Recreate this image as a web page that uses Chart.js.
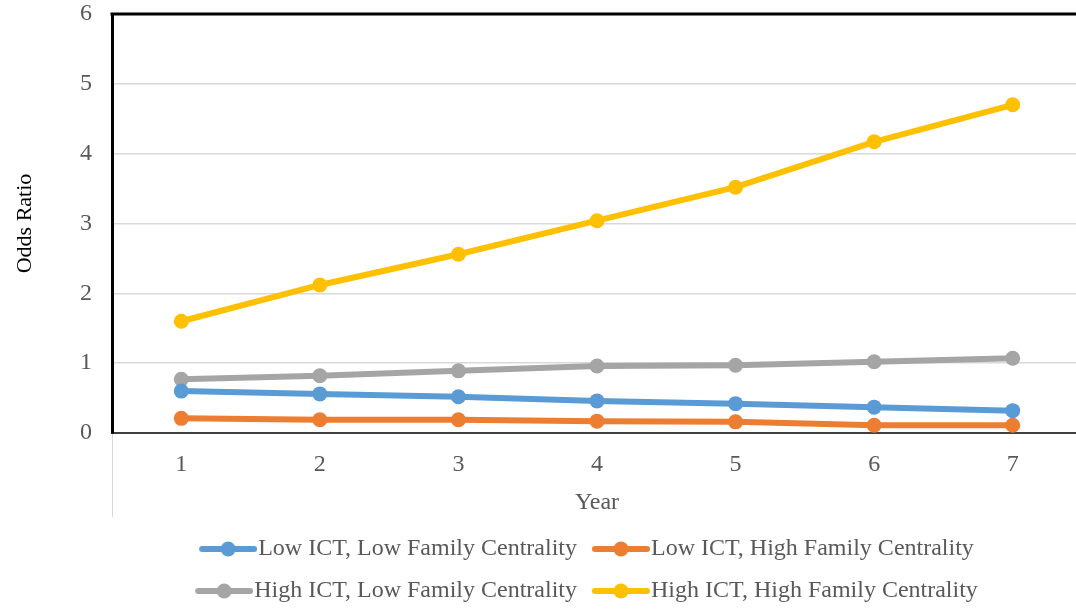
<!DOCTYPE html>
<html lang="en">
<head>
    <meta charset="UTF-8">
    <title>Odds Ratio by Year</title>
    <style>
        html, body {
            margin: 0;
            padding: 0;
            background: #ffffff;
            overflow: hidden;
        }

        .chart-wrap {
            width: 1100px;
            height: 613px;
        }
    </style>
</head>
<body>
<div class="chart-wrap">
    <canvas id="oddsChart"></canvas>
</div>

<script src="https://cdn.jsdelivr.net/npm/chart.js"></script>
<script>
    const years = ['1', '2', '3', '4', '5', '6', '7'];
    const lowIctLowFam = [0.60, 0.56, 0.52, 0.46, 0.42, 0.37, 0.32];
    const lowIctHighFam = [0.21, 0.19, 0.19, 0.17, 0.16, 0.11, 0.11];
    const highIctLowFam = [0.77, 0.82, 0.89, 0.96, 0.97, 1.02, 1.07];
    const highIctHighFam = [1.60, 2.12, 2.56, 3.04, 3.52, 4.17, 4.70];
    const seriesNames = [
        'Low ICT, Low Family Centrality',
        'Low ICT, High Family Centrality',
        'High ICT, Low Family Centrality',
        'High ICT, High Family Centrality'
    ];
    const seriesColors = ['#5B9BD5', '#ED7D31', '#A5A5A5', '#FFC000'];

    const fontFamily = '"Liberation Serif", "Times New Roman", serif';
    const fontSize = 24;
    const textGray = '#595959';

    // legend marker: short line with a dot in the middle
    // (drawn on a wider transparent canvas so the text sits right after it)
    function legendMarker(color) {
        const c = document.createElement('canvas');
        c.width = 66;
        c.height = 18;
        const ctx = c.getContext('2d');
        ctx.strokeStyle = color;
        ctx.lineWidth = 6;
        ctx.lineCap = 'round';
        ctx.beginPath();
        ctx.moveTo(11, 9);
        ctx.lineTo(63, 9);
        ctx.stroke();
        ctx.fillStyle = color;
        ctx.beginPath();
        ctx.arc(37, 9, 7.5, 0, Math.PI * 2);
        ctx.fill();
        return c;
    }

    // top frame line, the short gray line under the left end of the x axis,
    // and a small nudge of the legend so it sits like the original
    const frame = {
        id: 'frame',
        afterLayout(chart) {
            if (chart.legend) {
                chart.legend.left -= 9;
                chart.legend.right -= 9;
            }
        },
        afterDraw(chart) {
            const a = chart.chartArea;
            const ctx = chart.ctx;
            ctx.save();
            ctx.strokeStyle = '#000000';
            ctx.lineWidth = 3;
            ctx.beginPath();
            ctx.moveTo(a.left - 1.5, a.top);
            ctx.lineTo(a.right, a.top);
            ctx.stroke();
            ctx.strokeStyle = '#d9d9d9';
            ctx.lineWidth = 1;
            ctx.beginPath();
            ctx.moveTo(a.left + 0.5, a.bottom + 1);
            ctx.lineTo(a.left + 0.5, a.bottom + 84);
            ctx.stroke();
            ctx.restore();
        }
    };

    const rows = [lowIctLowFam, lowIctHighFam, highIctLowFam, highIctHighFam];
    const datasets = rows.map((vals, i) => ({
        label: seriesNames[i],
        data: vals,
        borderColor: seriesColors[i],
        backgroundColor: seriesColors[i],
        borderWidth: 6,
        pointRadius: 7.5,
        pointHoverRadius: 7.5,
        pointBorderWidth: 0,
        pointStyle: 'circle',
        tension: 0,
        fill: false
    }));

    new Chart(document.getElementById('oddsChart').getContext('2d'), {
        type: 'line',
        data: {
            labels: years,
            datasets: datasets
        },
        options: {
            responsive: true,
            maintainAspectRatio: false,
            animation: false,
            layout: {
                padding: { left: 8, right: 18, top: 0, bottom: 0 }
            },
            plugins: {
                tooltip: { enabled: false },
                legend: {
                    position: 'bottom',
                    fullSize: false,
                    labels: {
                        font: { family: fontFamily, size: fontSize },
                        color: textGray,
                        padding: 18,
                        usePointStyle: true,
                        pointStyleWidth: 44,
                        generateLabels(chart) {
                            return chart.data.datasets.map((ds, i) => ({
                                text: ds.label,
                                fontColor: textGray,
                                pointStyle: legendMarker(seriesColors[i]),
                                lineWidth: 0,
                                strokeStyle: 'transparent',
                                fillStyle: seriesColors[i],
                                hidden: false,
                                datasetIndex: i
                            }));
                        }
                    }
                }
            },
            scales: {
                x: {
                    type: 'category',
                    offset: true,
                    grid: {
                        display: true,
                        drawOnChartArea: false,
                        drawTicks: false
                    },
                    border: { display: true, color: '#404040', width: 2 },
                    ticks: {
                        font: { family: fontFamily, size: fontSize },
                        color: textGray,
                        padding: 17
                    },
                    title: {
                        display: true,
                        text: 'Year',
                        font: { family: fontFamily, size: fontSize },
                        color: textGray,
                        padding: { top: 10, bottom: 2 }
                    },
                    afterFit(scale) {
                        scale.height = 86;
                    }
                },
                y: {
                    min: 0,
                    max: 6,
                    grid: {
                        color: '#d9d9d9',
                        lineWidth: 1.5,
                        drawTicks: false
                    },
                    border: { display: true, color: '#000000', width: 3 },
                    ticks: {
                        stepSize: 1,
                        font: { family: fontFamily, size: fontSize },
                        color: textGray,
                        padding: 20
                    },
                    title: {
                        display: true,
                        text: 'Odds Ratio',
                        font: { family: fontFamily, size: 22 },
                        color: '#000000',
                        padding: { top: 4, bottom: 4 }
                    },
                    afterFit(scale) {
                        scale.width = 104;
                        scale.paddingTop = 14;
                        scale.paddingBottom = 0;
                    }
                }
            }
        },
        plugins: [frame]
    });
</script>
</body>
</html>
